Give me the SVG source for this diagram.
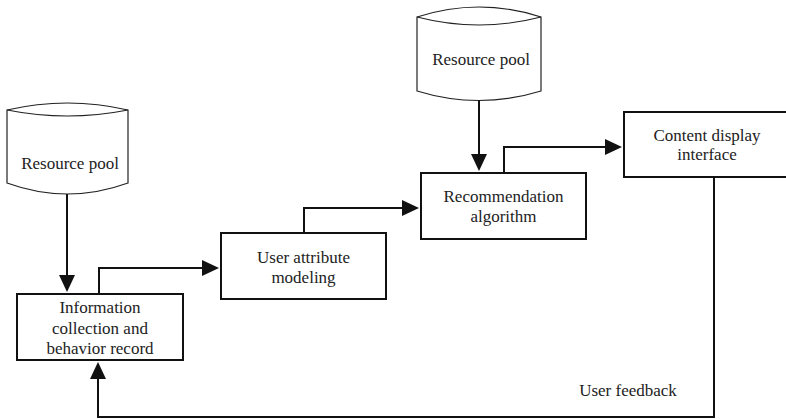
<svg xmlns="http://www.w3.org/2000/svg" width="786" height="419" viewBox="0 0 786 419">
  <defs>
    <marker id="arrow" markerUnits="userSpaceOnUse" markerWidth="17" markerHeight="16" refX="1" refY="8" orient="auto">
      <path d="M0,0 L17,8 L0,16 Z" fill="#111"/>
    </marker>
    <style>
      .box { fill: #fff; stroke: #111; stroke-width: 2; }
      .db { fill: #fff; stroke: #222; stroke-width: 1.2; }
      .lbl { font-family: "Liberation Serif", "Times New Roman", serif; font-size: 17px; fill: #222; text-anchor: middle; }
      .conn { fill: none; stroke: #111; stroke-width: 2; marker-end: url(#arrow); }
    </style>
  </defs>
  <rect width="786" height="419" fill="#fff"/>

  <!-- Data store feeding the collection step -->
  <g id="pool-left">
    <path class="db" d="M7,110 Q67.5,96 128,110 L128,183 Q67.5,205 7,183 Z"/>
    <path class="db" fill="none" d="M7,110 Q67.5,122 128,110"/>
    <text class="lbl" x="70" y="169">Resource pool</text>
  </g>

  <!-- Data store feeding the recommender -->
  <g id="pool-top">
    <path class="db" d="M417,17 Q479,-3 541,17 L541,91 Q479,110 417,91 Z"/>
    <path class="db" fill="none" d="M417,17 Q479,33 541,17"/>
    <text class="lbl" x="481" y="65">Resource pool</text>
  </g>

  <g id="info">
    <rect class="box" x="17" y="294" width="166" height="66"/>
    <text class="lbl" x="100" y="313">Information</text>
    <text class="lbl" x="100" y="334">collection and</text>
    <text class="lbl" x="100" y="354">behavior record</text>
  </g>

  <g id="user-attr">
    <rect class="box" x="221" y="233" width="165" height="66"/>
    <text class="lbl" x="303.5" y="263">User attribute</text>
    <text class="lbl" x="303.5" y="283">modeling</text>
  </g>

  <g id="recommend">
    <rect class="box" x="421" y="173" width="165" height="66"/>
    <text class="lbl" x="503.5" y="202">Recommendation</text>
    <text class="lbl" x="503.5" y="222">algorithm</text>
  </g>

  <g id="display">
    <rect class="box" x="624" y="112" width="170" height="65"/>
    <text class="lbl" x="707" y="141">Content display</text>
    <text class="lbl" x="707" y="160">interface</text>
  </g>

  <g id="connectors">
    <path class="conn" d="M67,194 V276"/>
    <path class="conn" d="M99,294 V268 H203"/>
    <path class="conn" d="M304,233 V208 H403"/>
    <path class="conn" d="M479,100 V155"/>
    <path class="conn" d="M504,173 V147 H606"/>
    <path class="conn" d="M714,177 V417 H98 V378"/>
    <text class="lbl" x="628" y="396">User feedback</text>
  </g>
</svg>
